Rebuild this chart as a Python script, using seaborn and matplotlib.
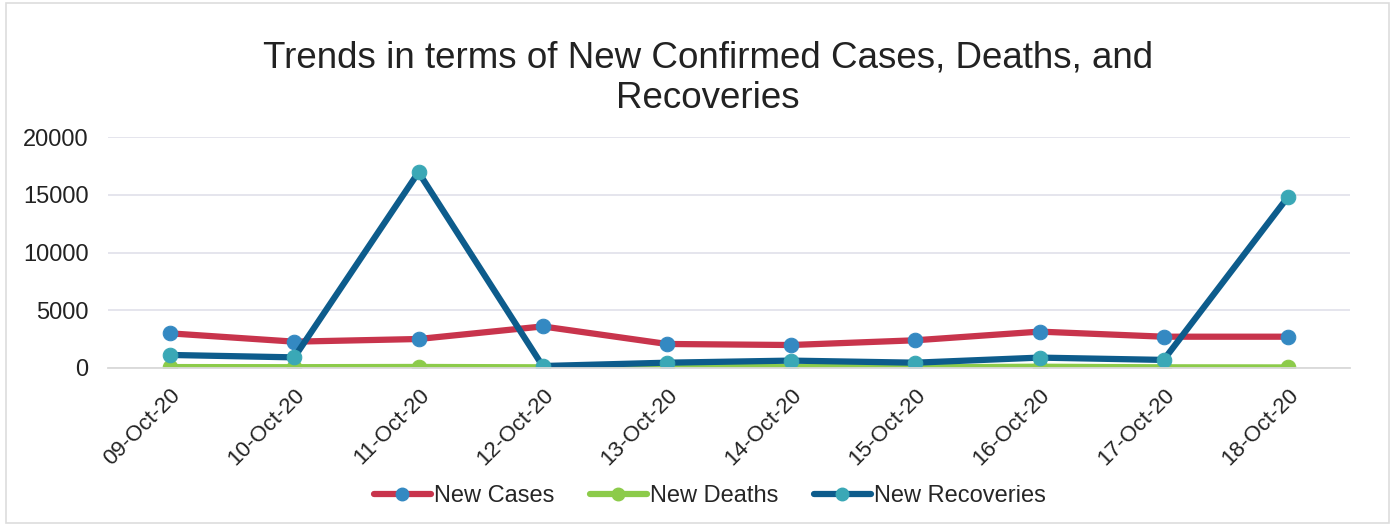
import matplotlib
matplotlib.use("Agg")
import matplotlib.pyplot as plt
import seaborn as sns
from matplotlib.lines import Line2D
from matplotlib.patches import Rectangle

# data
dates = ['09-Oct-20', '10-Oct-20', '11-Oct-20', '12-Oct-20', '13-Oct-20',
         '14-Oct-20', '15-Oct-20', '16-Oct-20', '17-Oct-20', '18-Oct-20']
new_cases = [3000, 2280, 2510, 3600, 2080, 1990, 2400, 3150, 2710, 2710]
new_deaths = [80, 70, 90, 60, 70, 90, 60, 110, 60, 50]
new_recoveries = [1130, 920, 16950, 170, 460, 640, 460, 900, 700, 14800]

series_names = ['New Cases', 'New Deaths', 'New Recoveries']
line_colors = ['#C8344C', '#8CCB4A', '#0D5C8C']
marker_colors = ['#3489C2', '#8CCB4A', '#3AA8B6']

sns.set_style("white")
plt.rcParams['font.family'] = ['Liberation Sans', 'DejaVu Sans']

fig = plt.figure(figsize=(13.95, 5.26), dpi=100)
ax = fig.add_axes([108 / 1395, 1 - 368 / 526, 1242 / 1395, 231 / 526])

all_values = [new_cases, new_deaths, new_recoveries]
for vals, lc, mc in zip(all_values, line_colors, marker_colors):
    sns.lineplot(x=dates, y=vals, ax=ax, color=lc, linewidth=4.5, marker='o',
                 markersize=10.5, markerfacecolor=mc, markeredgecolor=mc, sort=False)

ax.set_xlim(-0.5, len(dates) - 0.5)
ax.set_ylim(0, 20000)
ax.set_yticks([0, 5000, 10000, 15000, 20000])
ax.grid(axis='y', color='#E3E3EC', linewidth=1.3)
ax.set_axisbelow(True)
for s in ['top', 'right', 'left']:
    ax.spines[s].set_visible(False)
ax.spines['bottom'].set_color('#D9D9D9')
ax.spines['bottom'].set_linewidth(1.3)

ax.set_xticks(range(len(dates)))
ax.set_xticklabels(dates, rotation=45, ha='right', rotation_mode='anchor',
                   fontsize=16, color='#222222')
ax.tick_params(axis='x', length=0, pad=12)
ax.set_xticks([i - 0.5 for i in range(len(dates) + 1)], minor=True)
ax.tick_params(axis='x', which='minor', length=6, color='#D9D9D9', width=1.2)
ax.tick_params(axis='y', length=0, labelsize=17, labelcolor='#222222', pad=14)
ax.set_xlabel('')
ax.set_ylabel('')

fig.text(708 / 1395, 1 - 78 / 526,
         'Trends in terms of New Confirmed Cases, Deaths, and\nRecoveries',
         ha='center', va='center', fontsize=26.5, color='#222222', linespacing=1.2)

handles = [Line2D([0], [0], color=lc, linewidth=4.5, marker='o', markersize=9,
                  markerfacecolor=mc, markeredgecolor=mc)
           for lc, mc in zip(line_colors, marker_colors)]
fig.legend(handles, series_names, loc='center', bbox_to_anchor=(710 / 1395, 1 - 496 / 526),
           ncol=3, frameon=False, fontsize=17, handlelength=2.4, handletextpad=0.15,
           columnspacing=1.5)

fig.patches.append(Rectangle((0.004, 0.006), 0.992, 0.988, transform=fig.transFigure,
                             fill=False, edgecolor='#DDDDDD', linewidth=1.2))

fig.savefig('out.png', dpi=100)
